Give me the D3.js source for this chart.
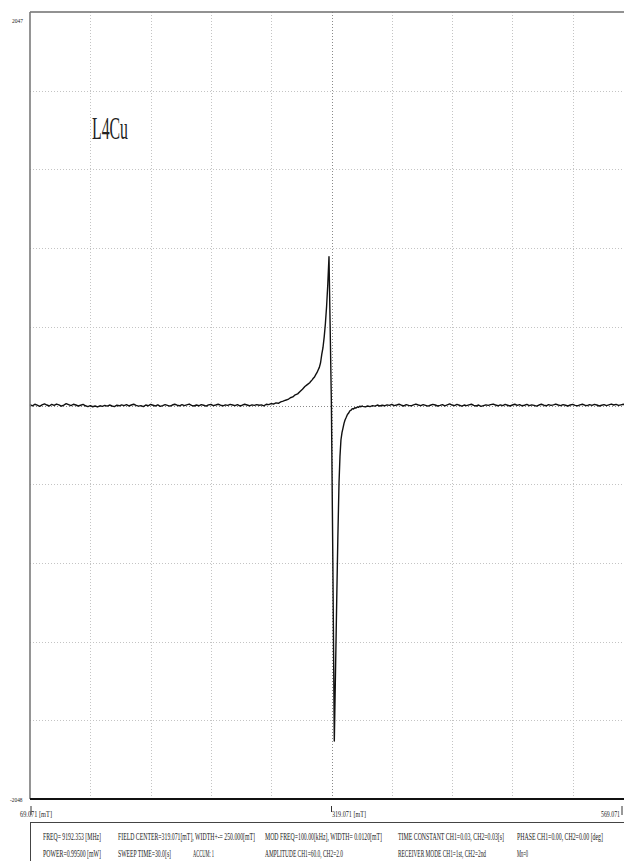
<!DOCTYPE html>
<html>
<head>
<meta charset="utf-8">
<script src="https://cdn.jsdelivr.net/npm/d3@7"></script>
<style>
  body { margin: 0; background: #fff; }
  svg { display: block; }
  text { font-family: "Liberation Serif", "Times New Roman", serif; fill: #222; }
</style>
</head>
<body>
<div id="chart"></div>
<script>
// field axis [mT] and signal axis (raw ADC units)
var fieldRange = [69.071, 569.071];
var valueRange = [-2048, 2047];
var sampleName = 'L4Cu';

// flat baseline before the line, sampled every 2 mT
var baseStep = 2;
var leftBaseStart = 69.071;
var leftBase = [
  4, -2, 6, 1, -5, 3, 8, 2, -3, 5, 0, 7, 3, -4, 2, 9, 4, -1, 6, 2,
  -3, 1, 5, -2, -6, -1, -7, -3, -8, -2, -5, 0, -4, 2, -3, -6, 1, -2, 3, -1,
  4, -3, 2, 6, 0, -4, -1, -6, 2, -2, 5, 1, -3, 3, -5, -1, 4, 0, -4, 2,
  6, 1, -2, 4, -1, 3, 7, 0, -3, 2, -2, 4, 1, -4, 3, 5, -1, 2, 6, 1,
  -2, 3, 0, 5, 2, -1, 4, -3, 1, 6, 2, -2, 3, 0, 4, 1
];

// low-field wing up to the positive peak
var wingField = [261, 263, 265, 267, 269, 271, 273, 275, 277, 279, 281, 283, 285, 287, 289, 291, 293, 295, 297, 299,
  301, 302, 303, 304, 305, 306, 307, 308, 309, 310, 311, 312, 313, 314, 315, 316, 317];
var wingValue = [3, -2, 6, 4, 9, 7, 13, 11, 18, 22, 27, 31, 40, 44, 55, 60, 72, 84, 98, 108,
  118, 126, 133, 141, 148, 160, 170, 184, 198, 222, 265, 300, 355, 425, 515, 630, 774];

// steep drop, negative peak and recovery
var lineField = [318.0, 319.0, 320.2, 321.4, 322.3, 323.4, 324.3, 325.3, 326.1, 326.9, 327.8, 328.6, 329.5, 330.3,
  331.3, 332.3, 333.3, 334.3, 335.3, 336.3, 337.3, 338.4, 339.4, 340.5, 341.5, 342.5, 343.5, 344.4];
var lineValue = [390, 0, -820, -1746, -1420, -1012, -700, -404, -265, -180, -140, -118, -92, -76,
  -62, -47, -40, -28, -25, -17, -19, -12, -14, -8, -10, -4, -7, -3];

// flat baseline after the line, sampled every 2 mT
var rightBaseStart = 345.071;
var rightBase = [
  -5, -8, -3, -6, -1, -4, 2, -3, 1, -2,
  3, 0, 5, -1, 2, 6, 1, -3, 4, 0,
  -2, 3, 7, 2, -1, 4, 0, -4, 1, 5,
  2, -3, 0, 4, -2, 3, 8, 2, -1, 5,
  1, -4, 2, -1, 3, 6, 0, -3, 2, -5,
  -1, 3, 0, 4, 7, 2, -2, 3, -1, 5,
  1, -3, 2, 6, 0, 4, -2, 1, 5, -1,
  3, 0, -4, 2, 6, 1, -2, 4, 0, 3,
  7, 2, -1, 4, 1, -3, 2, 5, 0, -2,
  3, 6, 1, -1, 4, 0, 5, 2, -3, 1,
  4, -1, 3, 7, 2, 5, 0, 3, 6, 1,
  -2, 3, 1
];

var fieldLabels = ['69.071 [mT]', '319.071 [mT]', '569.071'];
var valueLabels = ['2047', '-2048'];
var footerRows = [
  ['FREQ= 9192.353 [MHz]', 'FIELD CENTER=319.071[mT], WIDTH+-= 250.000[mT]', 'MOD FREQ=100.00[kHz], WIDTH=  0.0120[mT]',
    'TIME CONSTANT CH1=0.03, CH2=0.03[s]', 'PHASE CH1=0.00, CH2=0.00 [deg]'],
  ['POWER=0.99500 [mW]', 'SWEEP TIME=30.0[s]', 'ACCUM: 1', 'AMPLITUDE CH1=60.0, CH2=2.0',
    'RECEIVER MODE CH1=1st, CH2=2nd', 'Mn=0']
];

var width = 624, height = 861;
var plotLeft = 30, plotTop = 12, plotW = 603, plotH = 787;

var svg = d3.select('#chart').append('svg')
  .attr('width', width)
  .attr('height', height)
  .attr('viewBox', '0 0 ' + width + ' ' + height);

svg.append('rect').attr('width', width).attr('height', height).attr('fill', '#fff');

var x = d3.scaleLinear().domain(fieldRange).range([plotLeft, plotLeft + plotW]);
var y = d3.scaleLinear().domain(valueRange).range([plotTop + plotH, plotTop]);

// dotted grid, 10 x 10 divisions
var fieldGrid = d3.range(1, 10).map(function(k) { return fieldRange[0] + k * (fieldRange[1] - fieldRange[0]) / 10; });
var valueGrid = d3.range(1, 10).map(function(k) { return valueRange[0] + k * (valueRange[1] - valueRange[0]) / 10; });

var grid = svg.append('g').attr('fill', 'none');
grid.selectAll('.vg').data(fieldGrid).enter().append('line')
  .attr('x1', function(d) { return Math.round(x(d)) + 0.5; })
  .attr('x2', function(d) { return Math.round(x(d)) + 0.5; })
  .attr('y1', plotTop).attr('y2', plotTop + plotH)
  .attr('stroke', function(d, i) { return i == 4 ? '#8a8a8a' : '#c4c4c4'; })
  .attr('stroke-dasharray', '1,2');
grid.selectAll('.hg').data(valueGrid).enter().append('line')
  .attr('y1', function(d) { return Math.round(y(d)) + 0.5; })
  .attr('y2', function(d) { return Math.round(y(d)) + 0.5; })
  .attr('x1', plotLeft).attr('x2', width)
  .attr('stroke', function(d, i) { return i == 4 ? '#8a8a8a' : '#c4c4c4'; })
  .attr('stroke-dasharray', '1,2');

// spectrum
var points = [];
leftBase.forEach(function(v, i) { points.push([leftBaseStart + i * baseStep, v]); });
wingField.forEach(function(f, i) { points.push([f, wingValue[i]]); });
lineField.forEach(function(f, i) { points.push([f, lineValue[i]]); });
rightBase.forEach(function(v, i) { points.push([rightBaseStart + i * baseStep, v]); });

var line = d3.line()
  .x(function(d) { return x(d[0]); })
  .y(function(d) { return y(d[1]); });

svg.append('path')
  .datum(points)
  .attr('d', line)
  .attr('fill', 'none')
  .attr('stroke', '#111')
  .attr('stroke-width', 1.4)
  .attr('stroke-linejoin', 'round');

// frame
svg.append('line').attr('x1', plotLeft).attr('x2', width).attr('y1', plotTop).attr('y2', plotTop)
  .attr('stroke', '#6e6e6e').attr('stroke-width', 1.6);
svg.append('line').attr('x1', plotLeft).attr('x2', plotLeft).attr('y1', plotTop).attr('y2', plotTop + plotH)
  .attr('stroke', '#7a7a7a').attr('stroke-width', 1.6);
svg.append('line').attr('x1', plotLeft).attr('x2', width).attr('y1', plotTop + plotH).attr('y2', plotTop + plotH)
  .attr('stroke', '#111').attr('stroke-width', 2);

svg.append('text')
  .attr('x', 92).attr('y', 139)
  .attr('font-size', 31)
  .attr('textLength', 36).attr('lengthAdjust', 'spacingAndGlyphs')
  .text(sampleName);

// value labels at the top and bottom of the frame
svg.append('text').attr('x', 12).attr('y', 22.5).attr('font-size', 7)
  .attr('textLength', 11).attr('lengthAdjust', 'spacingAndGlyphs').text(valueLabels[0]);
svg.append('text').attr('x', 10).attr('y', 801.5).attr('font-size', 7)
  .attr('textLength', 12.5).attr('lengthAdjust', 'spacingAndGlyphs').text(valueLabels[1]);

// field labels with small marks
var labelX = [20, 332, 601];
var labelW = [32, 34, 19];
var markX = [x(fieldRange[0]) + 1, x((fieldRange[0] + fieldRange[1]) / 2), width - 2];
fieldLabels.forEach(function(t, i) {
  svg.append('text').attr('x', labelX[i]).attr('y', 816.5).attr('font-size', 8)
    .attr('textLength', labelW[i]).attr('lengthAdjust', 'spacingAndGlyphs').text(t);
  svg.append('line').attr('x1', markX[i]).attr('x2', markX[i]).attr('y1', 806).attr('y2', i == 1 ? 812 : 815)
    .attr('stroke', '#333').attr('stroke-width', 1);
});

// parameter box
svg.append('line').attr('x1', plotLeft).attr('x2', width).attr('y1', 822.5).attr('y2', 822.5)
  .attr('stroke', '#444').attr('stroke-width', 1);
svg.append('line').attr('x1', plotLeft + 0.5).attr('x2', plotLeft + 0.5).attr('y1', 822.5).attr('y2', height)
  .attr('stroke', '#444').attr('stroke-width', 1);

var footerX = [[43, 118, 265, 398, 517], [43, 118, 193, 265, 398, 517]];
var footerW = [[58, 137, 117, 106, 86], [58, 53, 21, 78, 88, 11]];
var footerY = [839.5, 856.5];
footerRows.forEach(function(row, r) {
  row.forEach(function(t, i) {
    svg.append('text')
      .attr('x', footerX[r][i]).attr('y', footerY[r])
      .attr('font-size', 10)
      .attr('textLength', footerW[r][i]).attr('lengthAdjust', 'spacingAndGlyphs')
      .text(t);
  });
});
</script>
</body>
</html>
